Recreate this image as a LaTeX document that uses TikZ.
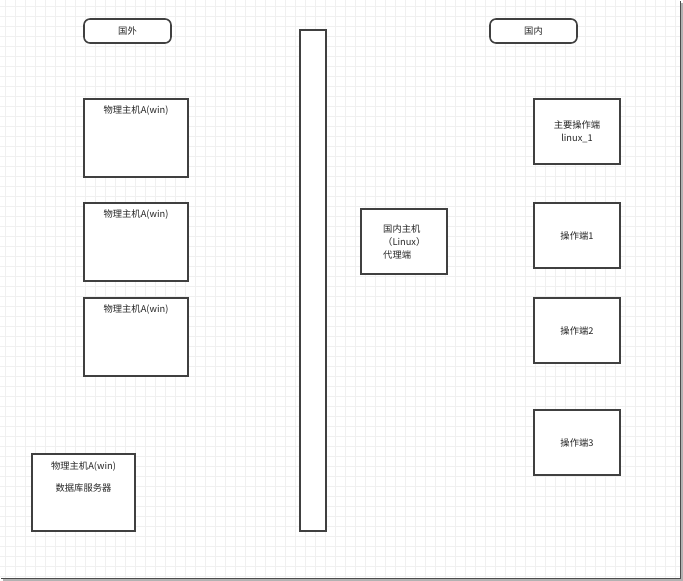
\documentclass[tikz,border=0pt]{standalone}
\usepackage{fontspec}
\setmainfont{Noto Sans CJK SC}
\usetikzlibrary{positioning}

\begin{document}
\begin{tikzpicture}[
	    x=1pt, y=-1pt,
	    every node/.style={font=\fontsize{9.3}{13}\selectfont, text=black!85, inner sep=0pt},
	    region/.style={draw=black!75, line width=1.6pt, rounded corners=6pt, fill=white, minimum width=87pt, minimum height=24pt},
	    hostbox/.style={draw=black!75, line width=1.6pt, fill=white, minimum width=104pt, minimum height=78pt},
	    termbox/.style={draw=black!75, line width=1.6pt, fill=white, minimum width=86pt, minimum height=65pt, align=center},
	    gridline/.style={draw=blue!5!black!6, line width=0.5pt}
	]
		\useasboundingbox (0,0) rectangle (683,581);

		% background grid
		\fill[white] (0,0) rectangle (680,578);
		\foreach \gx in {5,15,...,675} \draw[gridline] (\gx,0) -- (\gx,578);
		\foreach \gy in {6,16,...,576} \draw[gridline] (0,\gy) -- (680,\gy);
		\draw[black!70, line width=1pt] (680,1) -- (680,578) -- (1,578);
		\draw[black!30, line width=1.5pt] (682,3) -- (682,580) -- (3,580);

		% regions
		\node[region] (abroad) at (127.5,31) {国外};
		\node[region] (domestic) at (533.5,31) {国内};

		% wall
		\node[draw=black!75, line width=1.6pt, fill=white, minimum width=26pt, minimum height=501pt] (wall) at (313,280.5) {};

		% hosts abroad
		\node[hostbox] (hostA1) at (136,138) {};
		\node[hostbox] (hostA2) at (136,242) {};
		\node[hostbox] (hostA3) at (136,337) {};
		\node[below=7pt of hostA1.north] (hostA1txt) {物理主机A(win)};
		\node[below=7pt of hostA2.north] (hostA2txt) {物理主机A(win)};
		\node[below=7pt of hostA3.north] (hostA3txt) {物理主机A(win)};

		\node[hostbox, minimum width=103pt, minimum height=77pt] (dbhost) at (83.5,492.5) {};
		\node[below=8pt of dbhost.north] (dbhosttxt) {物理主机A(win)};
		\node[below=30pt of dbhost.north] (dbtxt) {数据库服务器};

		% domestic proxy
		\node[draw=black!75, line width=1.6pt, fill=white, minimum width=86pt, minimum height=65pt] (proxy) at (404,241.5) {};
		\node[align=left, anchor=west] (proxytxt) at (383,242) {国内主机\\（Linux）\\代理端};

		% terminals
		\node[termbox] (term0) at (577,131.5) {主要操作端\\linux\_1};
		\node[termbox] (term1) at (577,235.5) {操作端1};
		\node[termbox] (term2) at (577,330.5) {操作端2};
		\node[termbox] (term3) at (577,442.5) {操作端3};
	\end{tikzpicture}
\end{document}
